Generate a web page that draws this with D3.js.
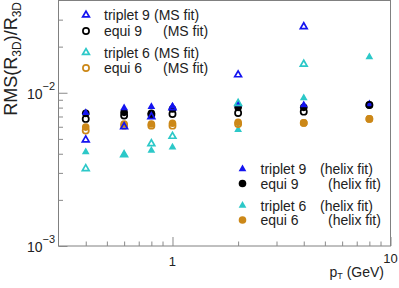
<!DOCTYPE html>
<html>
<head>
<meta charset="utf-8">
<script src="https://cdn.jsdelivr.net/npm/d3@7"></script>
<style>
  body { margin: 0; background: #fff; }
  text { font-family: 'Liberation Sans', Arial, sans-serif; fill: #222; }
</style>
</head>
<body>
<script>
// pT bins (GeV)
const pt = [0.4, 0.6, 0.8, 1, 2, 4, 8];

// MS fit (open markers)
const triplet9MS = [0.00493, 0.00601, 0.00699, 0.0080, 0.0131, 0.0270, null];
const equi9MS = [0.00675, 0.0071, 0.0072, 0.00727, 0.00738, 0.00753, 0.00832];
const triplet6MS = [0.0032, 0.00394, 0.00465, 0.0052, 0.00852, 0.01536, null];
const equi6MS = [0.00567, 0.0061, 0.0061, 0.0061, 0.00626, 0.00636, 0.00675];

// helix fit (filled markers)
const triplet9Helix = [0.0074, 0.00796, 0.00811, 0.00815, 0.00845, 0.00832, 0.00845];
const equi9Helix = [0.00734, 0.00745, 0.00734, 0.00784, 0.00803, 0.00803, 0.00832];
const triplet6Helix = [0.0041, 0.00394, 0.0042, 0.00441, 0.00573, 0.00924, 0.01713];
const equi6Helix = [0.00597, 0.00626, 0.00626, 0.00632, 0.00641, 0.00636, 0.00675];

const xMajor = [1, 10];
const xMinor = [0.4, 0.5, 0.6, 0.7, 0.8, 0.9, 2, 3, 4, 5, 6, 7, 8, 9];
const yMajor = [0.001, 0.01];
const yMinor = [0.002, 0.003, 0.004, 0.005, 0.006, 0.007, 0.008, 0.009, 0.02, 0.03];
const xLabels = ['1', '10'];
const yLabels = [['10', '\u22123'], ['10', '\u22122']];

const blue = '#1414f0', cyan = '#2cc8c8', orange = '#cc8818', black = '#000';

// draw order: filled first, open on top
const series = [
  { label: 'equi 6', fit: '(helix fit)', values: equi6Helix, shape: 'circle', color: orange, open: false },
  { label: 'triplet 6', fit: '(helix fit)', values: triplet6Helix, shape: 'triangle', color: cyan, open: false },
  { label: 'equi 9', fit: '(helix fit)', values: equi9Helix, shape: 'circle', color: black, open: false },
  { label: 'triplet 9', fit: '(helix fit)', values: triplet9Helix, shape: 'triangle', color: blue, open: false },
  { label: 'equi 6', fit: '(MS fit)', values: equi6MS, shape: 'circle', color: orange, open: true },
  { label: 'triplet 6', fit: '(MS fit)', values: triplet6MS, shape: 'triangle', color: cyan, open: true },
  { label: 'equi 9', fit: '(MS fit)', values: equi9MS, shape: 'circle', color: black, open: true },
  { label: 'triplet 9', fit: '(MS fit)', values: triplet9MS, shape: 'triangle', color: blue, open: true },
];

let dim = { width: 399, height: 288 };
let svg = d3.select('body').append('svg').attr('width', dim.width).attr('height', dim.height);

let x = d3.scaleLog().domain([0.3, 10]).range([58.5, 390.5]);
let y = d3.scaleLog().domain([0.001, 0.04]).range([246, 0.5]);

// frame
svg.append('rect')
  .attr('x', x.range()[0]).attr('y', y.range()[1])
  .attr('width', x.range()[1] - x.range()[0])
  .attr('height', y.range()[0] - y.range()[1])
  .attr('fill', 'none').attr('stroke', '#808080');

// ticks (inside)
function ticks(axis, vals, len, tr) {
  let g = svg.append('g').attr('transform', tr).attr('color', '#8a8a8a')
    .call(axis.tickValues(vals).tickSize(-len).tickFormat(''));
  g.select('.domain').remove();
}
ticks(d3.axisBottom(x), xMinor, 4.5, 'translate(0,246)');
ticks(d3.axisBottom(x), xMajor, 9, 'translate(0,246)');
ticks(d3.axisLeft(y), yMinor, 4.5, 'translate(58.5,0)');
ticks(d3.axisLeft(y), yMajor, 9, 'translate(58.5,0)');

// tick labels
svg.selectAll('.xlab').data(xMajor).enter().append('text')
  .attr('x', (d) => x(d)).attr('y', (d) => (d == 10 ? 263 : 266))
  .attr('text-anchor', 'middle').style('font-size', '13px')
  .text((d, i) => xLabels[i]);

let yl = svg.selectAll('.ylab').data(yMajor).enter().append('text')
  .attr('x', 55).attr('y', (d) => y(d) + 6)
  .attr('text-anchor', 'end').style('font-size', '14px');
yl.append('tspan').text((d, i) => yLabels[i][0]);
yl.append('tspan').attr('dy', -9).style('font-size', '11px').text((d, i) => yLabels[i][1]);

// axis titles
let ytitle = svg.append('text')
  .attr('transform', 'translate(17,2) rotate(-90)')
  .attr('text-anchor', 'end').style('font-size', '18px');
ytitle.append('tspan').text('RMS(R');
ytitle.append('tspan').attr('dy', 4).style('font-size', '12px').text('3D');
ytitle.append('tspan').attr('dy', -4).text(')/R');
ytitle.append('tspan').attr('dy', 4).style('font-size', '12px').text('3D');

let xtitle = svg.append('text')
  .attr('x', 384).attr('y', 277)
  .attr('text-anchor', 'end').style('font-size', '14px');
xtitle.append('tspan').text('p');
xtitle.append('tspan').attr('dy', 2).style('font-size', '9px').text('T');
xtitle.append('tspan').attr('dy', -2).attr('xml:space', 'preserve').text(' (GeV)');

// markers
const tri = d3.symbol().type(d3.symbolTriangle);
function marker(sel, s) {
  if (s.shape == 'triangle') {
    sel.append('path').attr('d', tri.size(s.open ? 20 : 26)());
  } else {
    sel.append('circle').attr('r', s.open ? 3.1 : 3.8);
  }
  sel.selectAll('path,circle')
    .attr('fill', s.open ? 'none' : s.color)
    .attr('stroke', s.open ? s.color : 'none')
    .attr('stroke-width', 1.7);
}

series.forEach((s) => {
  let pts = pt.map((p, i) => [p, s.values[i]]).filter((d) => d[1] != null);
  svg.append('g').selectAll('g').data(pts).enter().append('g')
    .attr('transform', (d) => `translate(${x(d[0])},${y(d[1])})`)
    .each(function () { marker(d3.select(this), s); });
});

// legends
function legend(items, mx, tx, fx, rows) {
  items.forEach((s, i) => {
    let g = svg.append('g').attr('transform', `translate(${mx},${rows[i]})`);
    marker(g, s);
    svg.append('text').attr('x', tx).attr('y', rows[i] + 5).style('font-size', '14px').text(s.label);
    svg.append('text').attr('x', s.label.startsWith('triplet') ? fx[0] : fx[1])
      .attr('y', rows[i] + 5).style('font-size', '14px').text(s.fit);
  });
}
let ms = series.filter((s) => s.open);
legend([ms[3], ms[2], ms[1], ms[0]], 86, 104, [154, 163], [15, 31, 52.5, 68]);
let hx = series.filter((s) => !s.open);
legend([hx[3], hx[2], hx[1], hx[0]], 242.5, 260.5, [320, 328], [169, 183.5, 205.5, 220]);
</script>
</body>
</html>
